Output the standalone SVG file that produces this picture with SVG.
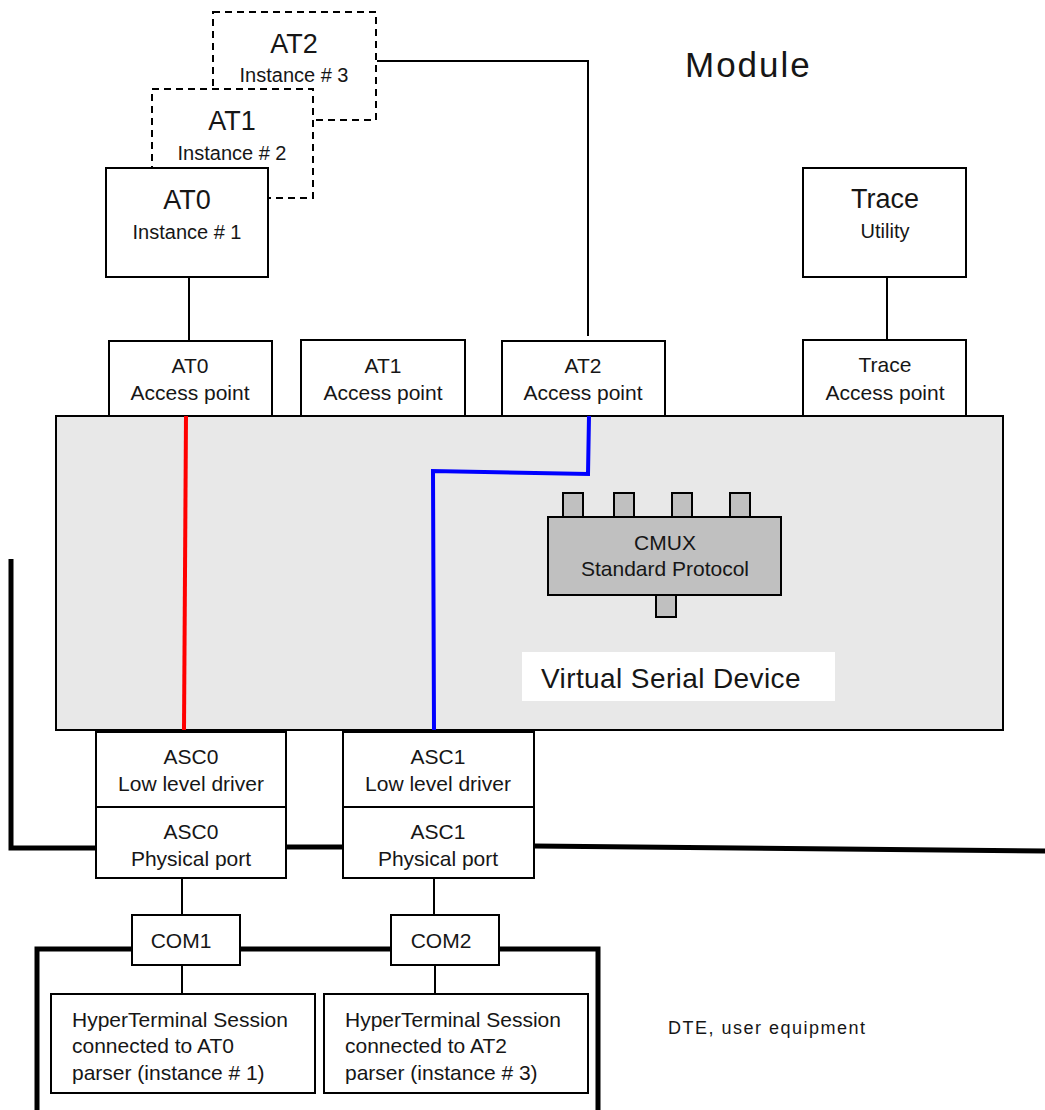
<svg xmlns="http://www.w3.org/2000/svg" width="1045" height="1110" viewBox="0 0 1045 1110">
<style>
text{font-family:"Liberation Sans",Arial,sans-serif;fill:#161616;text-anchor:middle}
.box{fill:#fff;stroke:#000;stroke-width:2}
.dash{fill:#fff;stroke:#000;stroke-width:2;stroke-dasharray:7,5}
.ln{stroke:#000;stroke-width:2;fill:none}
.thick{stroke:#000;stroke-width:5;fill:none}
.big{font-size:27px}
.sm{font-size:20px}
.lb{font-size:21px}
.tab{fill:#c0c0c0;stroke:#000;stroke-width:2}
.left{text-anchor:start}
</style>
<rect width="1045" height="1110" fill="#fff"/>
<text x="685" y="77" class="left" style="font-size:35px;letter-spacing:2px">Module</text>

<g id="connectors">
<path class="ln" d="M189 277V341"/>
<path class="ln" d="M377 61H588V336"/>
<path class="ln" d="M887 277V340"/>
<path class="thick" d="M11 559V848H96"/>
<path class="thick" d="M286 847H343"/>
<path class="thick" d="M534 846L1045 851"/>
<path class="ln" d="M182 878V915"/>
<path class="ln" d="M182 965V994"/>
<path class="ln" d="M434 878V915"/>
<path class="ln" d="M435 965V994"/>
</g>

<g id="at2-instance">
<rect class="dash" x="213" y="12" width="163" height="108"/>
<text x="294" y="53" class="big">AT2</text>
<text x="294" y="82" class="sm">Instance # 3</text>
</g>
<g id="at1-instance">
<rect class="dash" x="152" y="89" width="161" height="109"/>
<text x="232" y="130" class="big">AT1</text>
<text x="232" y="160" class="sm">Instance # 2</text>
</g>
<g id="at0-instance">
<rect class="box" x="106" y="168" width="162" height="109"/>
<text x="187" y="209" class="big">AT0</text>
<text x="187" y="239" class="sm">Instance # 1</text>
</g>
<g id="trace-utility">
<rect class="box" x="803" y="168" width="163" height="109"/>
<text x="885" y="208" class="big">Trace</text>
<text x="885" y="238" class="sm">Utility</text>
</g>

<g id="virtual-serial-device">
<rect x="56" y="416" width="947" height="314" fill="#e8e8e8" stroke="#000" stroke-width="2"/>
<rect x="522" y="652" width="313" height="49" fill="#fff"/>
<text x="541" y="688" class="left" style="font-size:28px;letter-spacing:0.4px">Virtual Serial Device</text>
</g>

<g id="at0-ap">
<rect class="box" x="109" y="341" width="163" height="75"/>
<text x="190" y="373" class="lb">AT0</text>
<text x="190" y="400" class="lb">Access point</text>
</g>
<g id="at1-ap">
<rect class="box" x="301" y="340" width="164" height="76"/>
<text x="383" y="373" class="lb">AT1</text>
<text x="383" y="400" class="lb">Access point</text>
</g>
<g id="at2-ap">
<rect class="box" x="502" y="341" width="163" height="75"/>
<text x="583" y="373" class="lb">AT2</text>
<text x="583" y="400" class="lb">Access point</text>
</g>
<g id="trace-ap">
<rect class="box" x="803" y="340" width="163" height="76"/>
<text x="885" y="372" class="lb">Trace</text>
<text x="885" y="400" class="lb">Access point</text>
</g>

<g id="paths">
<path d="M186 416L184 730" stroke="#ff0000" stroke-width="4" fill="none"/>
<path d="M589 416L588 474L433 471L434 730" stroke="#0000ff" stroke-width="4" fill="none"/>
</g>

<g id="cmux">
<rect class="tab" x="563" y="493" width="20" height="24"/>
<rect class="tab" x="614" y="493" width="20" height="24"/>
<rect class="tab" x="672" y="493" width="20" height="24"/>
<rect class="tab" x="730" y="493" width="20" height="24"/>
<rect class="tab" x="656" y="595" width="20" height="22"/>
<rect class="tab" x="548" y="517" width="233" height="78"/>
<text x="665" y="550" class="lb">CMUX</text>
<text x="665" y="576" class="lb">Standard Protocol</text>
</g>

<g id="asc0-driver">
<rect class="box" x="96" y="732" width="190" height="75"/>
<text x="191" y="764" class="lb">ASC0</text>
<text x="191" y="791" class="lb">Low level driver</text>
</g>
<g id="asc0-port">
<rect class="box" x="96" y="807" width="190" height="71"/>
<text x="191" y="839" class="lb">ASC0</text>
<text x="191" y="866" class="lb">Physical port</text>
</g>
<g id="asc1-driver">
<rect class="box" x="343" y="732" width="191" height="75"/>
<text x="438" y="764" class="lb">ASC1</text>
<text x="438" y="791" class="lb">Low level driver</text>
</g>
<g id="asc1-port">
<rect class="box" x="343" y="807" width="191" height="71"/>
<text x="438" y="839" class="lb">ASC1</text>
<text x="438" y="866" class="lb">Physical port</text>
</g>

<g id="dte">
<path class="thick" d="M37 1110V949H598V1110"/>
<text x="668" y="1034" class="left" style="font-size:18px;letter-spacing:1.5px">DTE, user equipment</text>
</g>
<g id="com1">
<rect class="box" x="132" y="915" width="108" height="50"/>
<text x="181" y="948" class="lb">COM1</text>
</g>
<g id="com2">
<rect class="box" x="391" y="915" width="108" height="50"/>
<text x="441" y="948" class="lb">COM2</text>
</g>
<g id="ht1">
<rect class="box" x="51" y="994" width="264" height="99"/>
<text x="72" y="1027" class="lb left">HyperTerminal Session</text>
<text x="72" y="1053" class="lb left">connected to AT0</text>
<text x="72" y="1080" class="lb left">parser (instance # 1)</text>
</g>
<g id="ht2">
<rect class="box" x="324" y="994" width="264" height="99"/>
<text x="345" y="1027" class="lb left">HyperTerminal Session</text>
<text x="345" y="1053" class="lb left">connected to AT2</text>
<text x="345" y="1080" class="lb left">parser (instance # 3)</text>
</g>
</svg>
